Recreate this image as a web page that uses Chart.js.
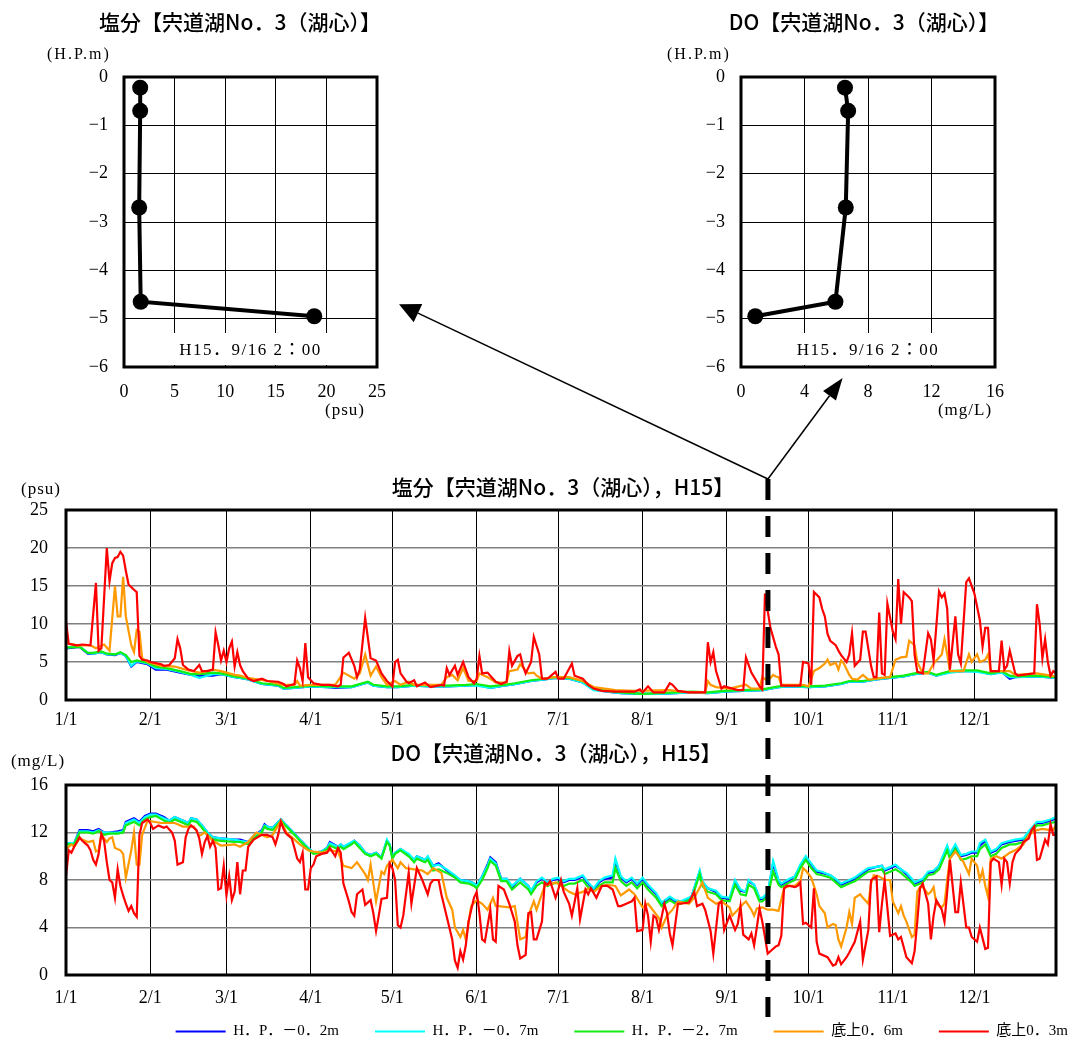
<!DOCTYPE html>
<html lang="ja">
<head>
<meta charset="utf-8">
<title>宍道湖No.3（湖心） 塩分・DO H15</title>
<script src="https://cdn.jsdelivr.net/npm/chart.js@4.4.1/dist/chart.umd.min.js"></script>
<style>
  html, body { margin: 0; padding: 0; background: #fff; overflow: hidden; }
  #page { position: relative; width: 1073px; height: 1046px; overflow: hidden; background: #fff; }
  .box { position: absolute; }
  .box canvas { display: block; }
  #overlay { position: absolute; left: 0; top: 0; pointer-events: none; }
</style>
</head>
<body>
<div id="page">
  <div class="box" style="left:0;top:0;"><canvas id="salProfile" width="400" height="430"></canvas></div>
  <div class="box" style="left:620px;top:0;"><canvas id="doProfile" width="453" height="430"></canvas></div>
  <div class="box" style="left:0;top:470px;"><canvas id="salSeries" width="1073" height="270"></canvas></div>
  <div class="box" style="left:0;top:740px;"><canvas id="doSeries" width="1104" height="330"></canvas></div>
  <canvas id="overlay" width="1073" height="1046"></canvas>
</div>
<script>
// ---- profile at H15.9/16 2:00 ----
const depthM = [-0.22, -0.7, -2.7, -4.65, -4.95];
const salProfilePsu = [1.6, 1.6, 1.5, 1.65, 18.8];
const doProfileMg = [6.55, 6.75, 6.6, 5.95, 0.9];
const sampleDay = 258 + 2 / 24;   // 9/16 2:00, days from 1/1

// ---- x axis (day of year) ----
const monthStarts = [0, 31, 59, 90, 120, 151, 181, 212, 243, 273, 304, 334];
const monthLabels = ['1/1', '2/1', '3/1', '4/1', '5/1', '6/1', '7/1', '8/1', '9/1', '10/1', '11/1', '12/1'];

const seriesNames = ['H．P．－0．2m', 'H．P．－0．7m', 'H．P．－2．7m', '底上0．6m', '底上0．3m'];
const seriesColors = ['#0000ff', '#00ffff', '#11ee11', '#ff9900', '#ff0000'];

// ---- salinity (psu) ----
const salUpperDays = [0,5,8,10,13,15,18,20,22,24, 26,30,33,37,42,46,49,54,57,62, 64,67,72,78,80,84,90,96,99,105,
  111,113,118,122,128,134,140,147,151,156, 161,165,171,176,180,185,190,194,199,204, 212,218,224,230,236,242,249,256,262,266,
  273,279,285,288,293,298,303,308,312,317, 320,325,330,335,340,344,347,349,357,364];
const salHP02 = [6.8,7.0,6.1,6.1,6.3,6.0,5.9,6.2,5.8,4.4, 5.0,4.7,4.0,4.0,3.6,3.3,3.2,3.2,3.4,3.0, 2.9,2.7,2.1,1.9,1.5,1.6,1.8,1.7,1.6,1.7,
  2.3,1.9,1.7,1.7,1.9,1.8,1.8,1.9,2.0,1.6, 1.9,2.1,2.5,2.7,2.9,2.8,2.3,1.4,1.1,0.9, 0.8,0.8,0.9,1.0,0.9,1.1,1.2,1.3,1.7,1.8,
  1.7,1.8,2.1,2.4,2.4,2.7,2.9,3.1,3.4,3.6, 3.2,3.7,3.8,3.8,3.4,3.7,2.8,3.0,3.1,2.9];
const salHP07 = [6.9,7.1,6.2,6.1,6.3,6.0,6.0,6.2,5.8,4.5, 5.1,4.8,4.2,4.1,3.7,3.3,2.9,3.4,3.4,3.0, 2.9,2.7,2.1,1.9,1.5,1.6,1.8,1.7,1.7,1.7,
  2.3,1.9,1.7,1.7,1.9,1.8,1.8,1.9,1.9,1.6, 1.9,2.1,2.5,2.7,2.9,2.8,2.3,1.3,1.1,0.9, 0.8,0.8,0.9,1.0,0.9,1.1,1.2,1.3,1.7,1.8,
  1.7,1.8,2.1,2.4,2.4,2.7,2.9,3.1,3.4,3.6, 3.2,3.6,3.8,3.7,3.4,3.6,3.0,3.0,3.1,2.9];
const salHP27 = [6.9,7.0,6.2,6.2,6.4,6.1,6.0,6.3,5.9,5.0, 5.2,4.9,4.4,4.2,3.8,3.4,3.4,3.6,3.5,3.1, 3.0,2.8,2.2,2.0,1.6,1.7,1.9,1.8,1.8,1.8,
  2.4,2.0,1.8,1.8,2.0,1.9,1.9,2.0,2.1,1.8, 2.0,2.2,2.6,2.8,3.0,2.9,2.5,1.5,1.2,1.0, 0.8,0.9,1.0,1.1,1.0,1.2,1.3,1.4,1.8,1.9,
  1.8,1.9,2.2,2.5,2.5,2.8,3.0,3.2,3.5,3.7, 3.3,3.8,3.9,3.9,3.5,3.8,3.2,3.1,3.2,3.0];
const salBottom06 = [[0,7.5],[4,7.2],[9,7.2],[11,6.8],[14,7.3],[16,6.5],[18,15.0],[19,11.0],[20,11.0],[21,16.2],[22,11.0],[24,7.2],[25,6.3],[26,9.2],[27,9.0],[28,5.5],
  [30,5.0],[35,4.5],[40,4.4],[45,3.9],[49,3.6],[54,4.0],[57,3.8],[62,3.3],[64,3.2],[67,2.9],[74,2.5],[80,2.0],[84,2.0],[85,2.5],[86,1.9],[90,2.0],[99,2.0],
  [102,3.6],[106,2.8],[108,3.5],[110,6.0],[112,3.2],[114,4.4],[116,3.0],[118,2.0],[121,2.5],[123,2.0],[126,2.4],[128,2.0],[138,2.0],[140,3.0],[142,3.3],[144,2.6],
  [146,4.2],[148,2.5],[151,2.5],[152,3.5],[155,3.0],[158,2.3],[162,2.3],[163,3.8],[166,4.0],[167,4.7],[170,3.5],[172,3.6],[173,3.2],[175,2.8],[180,3.0],[185,3.0],
  [190,2.5],[194,1.7],[202,1.3],[209,1.2],[222,1.3],[229,1.0],[235,1.0],[236,2.5],[237,2.0],[239,1.7],[244,1.5],[250,2.0],[252,1.5],[255,1.5],[256,3.0],[258,2.5],
  [260,3.3],[261,3.1],[262,3.0],[263,2.0],[271,2.0],[273,1.8],[275,3.8],[277,4.2],[279,4.8],[280,5.3],[281,4.6],[283,4.9],[284,4.0],[285,5.2],[286,4.8],[288,3.3],
  [289,2.8],[291,2.7],[293,3.3],[295,2.7],[296,2.7],[300,2.9],[303,3.0],[305,5.3],[307,5.6],[309,5.7],[310,7.8],[312,7.2],[313,5.0],[315,3.5],[317,3.5],[319,4.8],
  [321,5.6],[322,6.0],[323,8.0],[324,6.0],[325,3.8],[330,3.8],[332,6.0],[333,5.0],[335,6.0],[336,5.0],[338,5.3],[339,6.0],[340,3.8],[347,3.8],[349,3.3],[357,3.5],[364,3.1]];
const salBottom03 = [[0,10.3],[1,7.4],[4,7.2],[6,7.3],[9,7.2],[11,15.4],[12,6.5],[13,6.8],[15,20.0],[16,15.6],[17,18.0],[18,18.7],[19,18.8],[20,19.5],[21,19.0],[22,17.0],
  [23,15.2],[25,14.5],[26,14.2],[27,5.8],[28,5.3],[30,5.2],[31,5.0],[35,4.7],[36,4.5],[38,4.6],[40,5.5],[41,8.0],[42,6.8],[43,4.6],[45,4.0],[47,3.8],[49,4.6],
  [50,3.8],[52,3.8],[54,4.0],[55,8.9],[56,7.2],[57,5.2],[58,6.5],[59,5.0],[60,6.8],[61,7.7],[62,4.4],[63,6.3],[64,4.6],[65,3.8],[67,2.8],[69,2.5],[72,2.8],
  [74,2.5],[78,2.4],[80,2.1],[81,1.8],[83,2.0],[84,2.1],[85,5.2],[86,4.2],[87,2.5],[88,7.5],[89,3.0],[91,2.2],[94,2.0],[97,2.0],[100,1.8],[101,2.0],[102,5.6],
  [104,6.2],[106,4.5],[107,3.0],[108,4.0],[110,10.8],[112,5.5],[114,5.2],[116,3.5],[118,2.5],[120,1.8],[121,5.0],[122,5.3],[123,3.5],[125,2.5],[126,2.2],[128,2.6],
  [129,1.8],[132,2.3],[134,1.7],[138,2.0],[139,1.9],[140,4.2],[141,3.3],[143,4.5],[144,3.3],[146,5.0],[148,3.0],[150,2.2],[151,2.8],[152,5.8],[153,3.5],[155,3.6],
  [156,3.2],[158,2.4],[160,2.1],[162,2.4],[163,6.4],[164,4.5],[166,5.8],[167,6.0],[168,4.5],[169,3.5],[171,5.0],[172,8.3],[174,6.0],[175,2.8],[177,2.8],[180,3.7],
  [181,2.8],[183,2.8],[186,4.8],[187,3.2],[190,2.8],[192,2.0],[194,1.5],[197,1.2],[202,1.1],[209,1.1],[211,1.4],[212,1.0],[214,1.8],[216,1.0],[220,1.0],[222,2.2],
  [223,2.0],[225,1.2],[229,1.0],[235,1.0],[236,7.6],[237,5.0],[238,6.3],[239,3.8],[241,1.5],[242,1.8],[244,1.6],[247,1.3],[249,1.3],[250,5.6],[252,3.6],[255,1.8],
  [256,1.4],[257,14.0],[259,9.5],[261,7.0],[262,6.0],[263,1.9],[270,1.9],[271,5.0],[273,4.8],[274,2.0],[275,14.2],[277,13.5],[278,12.0],[279,11.0],[280,8.7],[281,7.8],
  [283,7.2],[284,6.5],[285,5.9],[287,5.0],[288,6.0],[289,8.8],[290,4.5],[292,5.3],[293,9.0],[294,9.0],[296,4.5],[297,3.0],[298,3.0],[299,11.5],[300,3.5],[301,3.3],
  [302,12.7],[304,9.0],[305,8.0],[306,15.9],[307,10.0],[308,14.2],[310,13.5],[311,13.0],[312,6.0],[313,3.7],[315,3.5],[317,8.8],[318,8.0],[319,5.2],[321,14.3],[322,13.5],
  [323,14.0],[324,12.0],[325,4.0],[327,11.0],[328,6.0],[329,4.8],[331,15.5],[332,16.0],[334,14.0],[336,10.5],[337,7.0],[338,9.5],[339,9.5],[340,3.8],[343,3.8],[344,7.8],
  [345,4.0],[346,4.5],[347,6.5],[349,3.5],[350,3.2],[356,3.5],[357,12.6],[358,10.0],[359,5.5],[360,8.0],[361,5.0],[362,3.2],[363,3.8],[364,3.5]];

// ---- DO (mg/L) ----
const doUpperDays = [0,3,5,8,10,12,14,16,19,21, 22,25,27,29,31,33,36,38,40,42, 45,46,48,50,52,54,57,62,64,67,
  69,72,73,74,76,79,81,84,86,89, 91,94,96,97,100,101,102,105,106,108, 110,112,114,116,118,119,120,121,123,126,
  128,129,132,133,135,137,140,143,145,148, 150,151,153,155,156,158,160,162,164,166, 167,170,171,173,175,177,179,181,183,185,
  187,190,192,194,196,198,201,202,204,206, 208,210,212,214,217,219,222,224,226,228, 230,233,234,236,239,241,244,246,248,250,
  251,253,255,256,258,260,262,263,266,268, 270,272,274,276,278,281,283,285,288,290, 293,295,298,300,301,303,305,307,309,311,
  312,315,317,319,321,324,325,327,329,331, 333,335,336,338,340,342,344,347,349,352, 354,357,359,362,364];
const doHP02 = [11.1,11.1,12.2,12.2,12.1,12.3,12.0,12.0,12.1,12.2, 12.9,13.2,12.9,13.4,13.6,13.6,13.3,13.0,13.3,13.1, 12.8,13.2,13.1,12.6,12.0,11.6,11.5,11.4,11.4,11.2,
  11.7,12.2,12.7,12.5,12.4,13.1,12.6,11.9,11.4,10.7, 10.3,10.4,10.7,11.2,10.8,11.0,10.8,11.1,11.3,10.9, 10.3,10.1,10.3,9.9,11.3,11.0,9.9,10.3,10.6,10.1,
  9.7,10.0,9.7,9.9,9.2,9.4,8.8,8.3,8.0,7.9, 7.7,7.5,8.3,9.3,9.9,9.5,8.1,8.1,7.4,7.9, 8.1,7.5,7.0,7.8,8.1,7.8,8.0,8.1,7.8,8.0,
  8.0,8.3,7.7,7.2,7.8,8.1,8.2,9.6,8.2,7.8, 8.1,7.6,8.1,7.5,6.8,6.0,6.5,6.2,6.1,6.3, 6.6,8.7,7.8,7.3,7.0,6.5,6.4,7.9,7.1,7.0,
  7.9,7.6,6.4,6.4,6.8,9.4,7.9,7.6,8.0,8.3, 9.2,9.9,9.3,8.7,8.6,8.4,8.0,7.6,7.9,8.1, 8.6,8.9,9.1,9.2,8.8,9.0,9.2,8.9,8.5,8.0,
  7.7,8.0,8.6,8.7,9.2,10.8,10.1,10.9,10.0,10.1, 10.3,10.3,10.9,11.3,10.3,10.5,11.0,11.2,11.3,11.4, 12.0,12.8,12.8,13.0,13.2];
const doHP07 = [11.1,11.1,12.1,12.1,12.0,12.2,12.0,12.0,12.0,12.1, 12.8,13.1,12.8,13.3,13.5,13.5,13.2,13.0,13.3,13.1, 12.8,13.2,13.1,12.6,12.0,11.6,11.5,11.4,11.3,11.2,
  11.7,12.1,12.6,12.5,12.4,13.1,12.6,11.9,11.4,10.7, 10.3,10.4,10.7,11.1,10.8,11.0,10.8,11.2,11.3,10.9, 10.3,10.1,10.3,9.9,11.4,11.0,9.9,10.3,10.6,10.2,
  9.7,10.0,9.7,10.0,9.2,9.3,8.9,8.4,8.0,7.9, 7.7,7.5,8.3,9.2,9.8,9.4,8.1,8.1,7.5,7.9, 8.1,7.5,7.1,7.9,8.2,7.8,8.1,8.2,7.9,8.1,
  8.1,8.4,7.8,7.3,7.9,8.2,8.4,9.8,8.3,7.9, 8.2,7.7,8.2,7.6,6.9,6.1,6.6,6.3,6.2,6.4, 6.6,8.8,7.9,7.3,7.1,6.6,6.5,8.0,7.2,7.0,
  8.0,7.6,6.5,6.5,6.9,9.6,8.0,7.7,8.1,8.3, 9.3,10.0,9.4,8.8,8.7,8.4,8.1,7.7,8.0,8.2, 8.7,9.0,9.1,9.2,8.9,9.1,9.3,8.9,8.6,8.1,
  7.8,8.1,8.7,8.8,9.2,10.9,10.2,11.0,10.1,10.2, 10.4,10.4,11.1,11.4,10.4,10.6,11.1,11.3,11.4,11.5, 12.1,12.9,12.9,13.1,13.3];
const doHP27 = [11.0,11.0,12.0,12.0,11.9,12.1,11.8,11.9,11.9,12.0, 12.6,12.9,12.6,13.1,13.3,13.4,13.0,12.8,13.1,12.9, 12.6,13.0,12.9,12.4,11.8,11.4,11.3,11.2,11.2,11.0,
  11.5,12.0,12.5,12.3,12.2,13.0,12.5,11.8,11.3,10.6, 10.2,10.3,10.6,10.9,10.6,10.8,10.6,11.0,11.2,10.7, 10.2,10.0,10.2,9.8,11.2,10.9,9.8,10.2,10.5,10.0,
  9.5,9.8,9.5,9.7,8.8,8.9,8.6,8.2,7.8,7.7, 7.5,7.3,8.0,9.0,9.6,9.2,7.9,7.9,7.2,7.6, 7.8,7.2,6.8,7.5,7.8,7.5,7.7,7.8,7.5,7.7,
  7.7,8.0,7.4,7.0,7.5,7.8,7.8,9.0,7.9,7.5, 7.8,7.3,7.8,7.2,6.5,5.8,6.3,6.0,6.0,6.2, 6.4,8.5,7.5,7.0,6.8,6.3,6.2,7.6,6.8,6.7,
  7.6,7.3,6.2,6.2,6.6,8.7,7.6,7.4,7.8,8.0, 9.0,9.7,9.0,8.5,8.4,8.2,7.8,7.4,7.7,7.9, 8.4,8.7,8.8,8.9,8.5,8.7,8.9,8.6,8.2,7.8,
  7.5,7.8,8.4,8.5,8.9,10.5,9.8,10.6,9.7,9.8, 10.0,10.0,10.6,11.0,10.0,10.2,10.7,11.0,11.0,11.2, 11.8,12.6,12.6,12.8,12.9];
const doBottom06 = [[0,10.6],[2,11.0],[3,10.8],[5,11.5],[8,11.2],[10,11.3],[11,10.4],[12,10.5],[13,11.8],[15,11.2],[16,11.5],[17,11.6],[18,10.7],[20,10.5],[21,10.2],[22,8.2],
  [24,10.5],[25,12.0],[26,9.3],[27,9.3],[28,11.8],[30,13.0],[35,12.8],[40,12.8],[43,12.5],[47,12.5],[49,11.7],[51,12.0],[54,11.3],[57,10.9],[62,11.0],[64,10.8],
  [67,11.2],[70,12.0],[74,11.6],[76,11.8],[79,13.0],[81,12.0],[84,11.4],[86,11.0],[89,10.5],[91,10.4],[94,10.3],[97,10.5],[100,10.4],[102,9.2],[105,9.0],[107,9.5],
  [110,8.5],[111,8.0],[112,9.3],[114,6.2],[116,8.7],[117,8.5],[118,9.2],[120,9.7],[122,9.0],[123,9.5],[125,9.0],[128,8.9],[131,8.8],[133,8.5],[135,9.0],[138,8.6],
  [140,6.5],[142,5.5],[143,4.0],[145,3.2],[146,3.8],[147,3.0],[149,5.8],[151,6.3],[153,6.0],[155,5.5],[157,6.5],[158,5.8],[159,5.8],[163,5.7],[165,5.8],[167,3.0],
  [169,3.2],[170,5.0],[172,6.2],[173,5.5],[176,7.5],[180,7.8],[182,7.5],[185,7.0],[187,6.8],[190,7.0],[192,7.3],[194,7.0],[197,7.5],[199,7.6],[202,7.5],[204,6.7],
  [207,7.2],[209,6.8],[212,5.7],[214,6.0],[218,4.8],[219,4.0],[221,5.0],[223,5.5],[225,6.2],[229,6.0],[231,6.5],[234,7.8],[236,6.5],[239,6.0],[241,6.2],[244,5.7],
  [245,5.0],[247,5.5],[249,6.0],[250,6.2],[252,5.5],[253,5.0],[254,5.6],[256,5.7],[258,5.5],[260,5.5],[262,5.4],[264,7.3],[266,7.5],[268,7.5],[270,7.9],[271,9.0],
  [272,8.8],[274,8.2],[275,7.5],[276,6.8],[277,5.8],[279,5.2],[280,4.0],[282,4.3],[283,4.2],[284,3.0],[285,2.4],[287,4.0],[288,5.3],[289,4.3],[290,6.5],[292,6.8],
  [293,6.5],[295,6.0],[296,7.7],[297,8.4],[299,8.3],[301,8.0],[303,8.0],[304,6.2],[306,5.2],[307,5.8],[308,5.0],[309,4.5],[311,3.2],[312,3.4],[313,7.0],[314,7.4],
  [315,7.4],[317,6.8],[318,7.0],[319,7.4],[320,6.0],[322,5.7],[323,6.0],[324,8.0],[325,9.8],[327,10.4],[329,9.8],[330,9.5],[332,8.5],[333,9.8],[335,9.2],[336,8.0],
  [337,8.8],[338,7.5],[339,6.6],[340,9.8],[342,10.0],[344,9.8],[347,10.3],[349,10.5],[352,11.0],[354,11.8],[357,12.2],[359,12.3],[362,12.2],[363,12.2],[364,12.6]];
const doBottom03 = [[0,8.3],[1,10.5],[2,10.3],[3,10.8],[4,11.2],[5,11.6],[6,11.3],[8,10.9],[9,10.5],[10,9.7],[11,9.3],[12,10.2],[13,11.9],[14,11.3],[15,9.5],[16,8.0],
  [17,7.8],[18,6.5],[19,8.9],[20,7.5],[21,6.7],[22,6.0],[23,5.4],[24,5.8],[25,5.2],[26,4.9],[27,11.8],[28,12.8],[30,13.1],[31,12.8],[32,12.3],[34,12.6],
  [36,12.4],[37,12.5],[39,12.0],[40,11.3],[41,9.3],[43,9.5],[44,11.6],[45,12.3],[46,12.6],[48,12.2],[49,11.5],[50,10.2],[51,11.2],[52,11.7],[53,10.8],[54,11.3],
  [55,10.7],[56,7.2],[57,7.3],[58,9.2],[59,6.7],[60,8.3],[61,6.3],[62,7.0],[63,9.5],[64,6.8],[65,8.8],[66,8.8],[67,10.8],[69,11.4],[72,11.8],[74,11.8],
  [76,11.6],[77,11.0],[78,11.8],[79,12.9],[80,12.3],[81,11.9],[83,11.5],[84,10.7],[85,9.8],[86,9.5],[87,10.3],[88,7.2],[89,7.2],[90,9.0],[91,9.3],[92,10.0],
  [94,10.2],[96,10.3],[97,10.7],[99,10.0],[100,10.7],[101,10.3],[102,7.7],[104,6.2],[105,5.3],[106,5.0],[107,6.8],[109,7.2],[110,5.9],[112,6.3],[113,5.2],[114,3.7],
  [115,5.0],[116,6.4],[118,6.5],[119,9.4],[120,9.0],[121,8.0],[122,4.2],[123,4.0],[124,5.0],[126,8.6],[127,6.0],[129,9.0],[130,8.5],[131,8.0],[133,6.8],[134,7.7],
  [135,8.0],[137,8.0],[138,6.8],[140,4.9],[142,3.0],[143,1.2],[144,0.6],[145,2.0],[146,1.3],[147,2.5],[148,4.5],[150,6.5],[151,7.0],[152,5.2],[153,3.0],[154,2.8],
  [156,5.5],[157,3.0],[158,2.8],[159,7.5],[161,7.2],[163,6.0],[165,4.5],[166,2.5],[167,1.4],[169,1.7],[170,5.2],[171,5.3],[172,3.0],[173,3.0],[175,4.5],[176,7.8],
  [177,7.6],[178,7.9],[180,6.5],[181,7.2],[182,8.0],[183,7.0],[185,6.0],[186,5.0],[188,7.3],[189,4.7],[191,7.2],[192,6.8],[193,7.3],[195,6.5],[197,7.5],[199,7.5],
  [201,7.2],[202,6.5],[203,5.8],[204,5.8],[206,6.0],[208,6.2],[209,6.5],[210,3.7],[212,3.8],[213,6.0],[214,5.0],[215,2.8],[216,5.0],[217,4.8],[218,3.8],[220,6.0],
  [221,5.2],[222,3.5],[223,2.5],[225,6.0],[226,6.0],[229,6.1],[231,7.0],[232,5.8],[234,6.0],[235,5.5],[237,3.7],[238,1.8],[240,6.0],[241,6.2],[242,3.8],[244,5.0],
  [246,3.8],[247,4.3],[248,5.8],[249,3.4],[251,3.0],[252,3.5],[253,2.5],[254,4.0],[255,5.6],[256,4.5],[257,3.2],[258,1.8],[259,2.0],[261,2.4],[262,2.5],[263,3.3],
  [264,7.3],[265,7.5],[266,7.5],[268,7.4],[269,7.5],[270,7.8],[271,4.3],[272,4.4],[274,4.0],[275,7.3],[276,2.8],[277,1.8],[279,1.6],[280,1.5],[282,0.8],[283,0.9],
  [284,1.5],[285,0.9],[287,1.5],[288,1.9],[290,2.8],[292,4.5],[293,1.3],[295,3.8],[296,8.0],[298,8.3],[299,3.6],[300,6.0],[301,8.0],[303,3.3],[305,3.5],[306,3.0],
  [307,3.2],[309,1.5],[311,1.0],[312,2.0],[313,4.5],[314,7.3],[315,7.7],[317,6.0],[318,3.0],[319,5.0],[320,6.3],[322,5.5],[323,4.5],[324,7.0],[325,9.7],[327,5.3],
  [328,5.3],[329,7.8],[331,4.0],[332,4.0],[333,3.2],[335,2.8],[336,4.0],[338,2.2],[339,2.3],[340,9.5],[341,9.8],[343,9.5],[344,7.6],[345,9.8],[346,9.5],[347,7.7],
  [348,9.5],[349,10.2],[351,10.7],[352,11.2],[354,11.5],[355,12.2],[356,12.5],[357,9.7],[358,9.8],[360,11.4],[361,11.0],[362,12.7],[363,11.8],[364,11.8]];

const SERIF = '"Liberation Serif", "Noto Sans CJK JP", serif';
const GOTHIC = '"Noto Sans CJK JP", "Noto Sans", sans-serif';
const tickFont = { family: SERIF, size: 18 };
const titleFont = '500 21px ' + GOTHIC;

// frame, free-standing labels and the time stamp box
const decor = {
  id: 'decor',
  beforeDatasetsDraw(chart, args, opts) {
    if (!opts.stamp) return;
    const { ctx, chartArea: a } = chart;
    const cx = (a.left + a.right) / 2;
    ctx.save();
    ctx.font = '17px ' + SERIF;
    ctx.letterSpacing = '1.5px';
    const w = ctx.measureText(opts.stamp).width + 14;
    ctx.fillStyle = '#fff';
    ctx.fillRect(cx - w / 2, a.bottom - 34, w, 32);
    ctx.fillStyle = '#000';
    ctx.textAlign = 'center';
    ctx.textBaseline = 'middle';
    ctx.fillText(opts.stamp, cx, a.bottom - 16);
    ctx.restore();
  },
  afterDraw(chart, args, opts) {
    const { ctx, chartArea: a } = chart;
    ctx.save();
    ctx.lineWidth = 3;
    ctx.strokeStyle = '#000';
    ctx.strokeRect(a.left, a.top, a.right - a.left, a.bottom - a.top);
    (opts.texts || []).forEach(t => {
      ctx.font = t.font;
      ctx.letterSpacing = t.spacing || '0px';
      ctx.fillStyle = '#000';
      ctx.textAlign = t.align || 'left';
      ctx.textBaseline = 'middle';
      ctx.fillText(t.text, t.x, t.y);
    });
    ctx.restore();
  }
};

// moves the legend row up into the gap under the tick labels
const legendLift = {
  id: 'legendLift',
  afterLayout(chart, args, opts) {
    const lg = chart.legend;
    if (lg && opts.dy) {
      lg.top += opts.dy;
      lg.bottom += opts.dy;
    }
  }
};

const minusFmt = v => (v < 0 ? '−' + Math.abs(v) : String(v));

function profileChart(id, values, xMax, xStep, padRight, yWidth, texts) {
  return new Chart(document.getElementById(id), {
    type: 'scatter',
    data: {
      datasets: [{
        data: values.map((v, i) => ({ x: v, y: depthM[i] })),
        showLine: true,
        borderColor: '#000',
        borderWidth: 4,
        pointRadius: 8,
        pointBackgroundColor: '#000',
        pointBorderWidth: 0
      }]
    },
    options: {
      responsive: false,
      animation: false,
      layout: { padding: { left: 0, top: 77, right: padRight, bottom: 23 } },
      plugins: {
        legend: { display: false },
        tooltip: { enabled: false },
        decor: { texts, stamp: 'H15．9/16 2：00' }
      },
      scales: {
        x: {
          type: 'linear', min: 0, max: xMax,
          ticks: { stepSize: xStep, font: tickFont, color: '#000', padding: 14, maxRotation: 0 },
          grid: { color: '#000', lineWidth: 1, drawTicks: false },
          border: { display: false },
          afterFit: s => { s.height = 40; }
        },
        y: {
          min: -6, max: 0,
          ticks: { stepSize: 1, font: tickFont, color: '#000', padding: 16, callback: minusFmt },
          grid: { color: '#000', lineWidth: 1, drawTicks: false },
          border: { display: false },
          afterFit: s => { s.width = yWidth; }
        }
      }
    },
    plugins: [decor]
  });
}

const pairs = list => list.map(([x, y]) => ({ x, y }));
const onDays = (days, vals) => days.map((d, i) => ({ x: d, y: vals[i] }));

function seriesSets(upperDays, hp02, hp07, hp27, b06, b03) {
  const data = [onDays(upperDays, hp02), onDays(upperDays, hp07), onDays(upperDays, hp27), pairs(b06), pairs(b03)];
  return data.map((d, i) => ({
    label: seriesNames[i],
    data: d,
    borderColor: seriesColors[i],
    backgroundColor: seriesColors[i],
    borderWidth: 2.2,
    pointRadius: 0,
    tension: 0,
    order: 4 - i
  }));
}

function seriesScales(yMax, yStep, yLabel, xPad, xHeight) {
  return {
    x: {
      type: 'linear', min: 0, max: 364,
      afterBuildTicks: s => { s.ticks = monthStarts.map(v => ({ value: v })); },
      ticks: { font: tickFont, color: '#000', padding: xPad, maxRotation: 0, autoSkip: false,
               callback: (v, i) => monthLabels[i] },
      grid: { color: '#000', lineWidth: 1, drawTicks: false },
      border: { display: false },
      afterFit: s => { s.height = xHeight; }
    },
    y: {
      min: 0, max: yMax,
      ticks: { stepSize: yStep, font: tickFont, color: '#000', padding: 18, callback: yLabel },
      grid: { color: '#808080', lineWidth: 1.5, drawTicks: false },
      border: { display: false },
      afterFit: s => { s.width = 66; }
    }
  };
}

const salProfile = profileChart('salProfile', salProfilePsu, 25, 5, 22, 124, [
  { text: '塩分【宍道湖No．3（湖心）】', x: 240, y: 22, align: 'center', font: titleFont },
  { text: '(H.P.m)', x: 47, y: 55, font: '16px ' + SERIF, spacing: '2px' },
  { text: '(psu)', x: 345, y: 411, align: 'center', font: '17px ' + SERIF, spacing: '1px' }
]);

const doProfile = profileChart('doProfile', doProfileMg, 16, 4, 78, 121, [
  { text: 'DO【宍道湖No．3（湖心）】', x: 244, y: 22, align: 'center', font: titleFont },
  { text: '(H.P.m)', x: 47, y: 55, font: '16px ' + SERIF, spacing: '2px' },
  { text: '(mg/L)', x: 345, y: 411, align: 'center', font: '17px ' + SERIF, spacing: '1px' }
]);

const salSeries = new Chart(document.getElementById('salSeries'), {
  type: 'line',
  data: { datasets: seriesSets(salUpperDays, salHP02, salHP07, salHP27, salBottom06, salBottom03) },
  options: {
    responsive: false,
    animation: false,
    layout: { padding: { left: 0, top: 40, right: 17, bottom: 0 } },
    plugins: {
      legend: { display: false },
      tooltip: { enabled: false },
      decor: { texts: [
        { text: '塩分【宍道湖No．3（湖心），H15】', x: 563, y: 17, align: 'center', font: titleFont },
        { text: '(psu)', x: 41, y: 20, align: 'center', font: '17px ' + SERIF, spacing: '1px' }
      ] }
    },
    scales: seriesScales(25, 5, v => v, 9, 40)
  },
  plugins: [decor]
});

const doScales = seriesScales(16, 2, v => (v % 4 === 0 ? v : ''), 12, 34);
// blank strip on the right so the legend row can run out to the page edge
doScales.yEdge = {
  position: 'right', display: true,
  grid: { display: false }, border: { display: false }, ticks: { display: false },
  afterFit: s => { s.width = 48; }
};
const doSeries = new Chart(document.getElementById('doSeries'), {
  type: 'line',
  data: { datasets: seriesSets(doUpperDays, doHP02, doHP07, doHP27, doBottom06, doBottom03) },
  options: {
    responsive: false,
    animation: false,
    layout: { padding: { left: 0, top: 45, right: 0, bottom: 0 } },
    plugins: {
      legend: {
        position: 'bottom',
        align: 'end',
        labels: {
          usePointStyle: true, pointStyle: 'line', pointStyleWidth: 50,
          padding: 36, color: '#000', font: { family: SERIF, size: 15 },
          sort: (a, b) => a.datasetIndex - b.datasetIndex
        }
      },
      legendLift: { dy: -21 },
      tooltip: { enabled: false },
      decor: { texts: [
        { text: 'DO【宍道湖No．3（湖心），H15】', x: 556, y: 13, align: 'center', font: titleFont },
        { text: '(mg/L)', x: 38, y: 22, align: 'center', font: '17px ' + SERIF, spacing: '1px' }
      ] }
    },
    scales: doScales
  },
  plugins: [decor, legendLift]
});

// dashed sampling line and the two pointers to the profiles
function drawPointers() {
  const ctx = document.getElementById('overlay').getContext('2d');
  const origin = c => { const el = c.canvas.parentNode; return { x: el.offsetLeft, y: el.offsetTop }; };
  const oS = origin(salSeries), oD = origin(doSeries), oA = origin(salProfile), oB = origin(doProfile);
  const xLine = oS.x + salSeries.scales.x.getPixelForValue(sampleDay);
  const yTop = oS.y + salSeries.chartArea.top - 31;
  const yBottom = oD.y + doSeries.chartArea.bottom + 42;

  ctx.save();
  ctx.strokeStyle = '#000';
  ctx.lineWidth = 5;
  ctx.setLineDash([21, 16]);
  ctx.beginPath();
  ctx.moveTo(xLine, yTop);
  ctx.lineTo(xLine, yBottom);
  ctx.stroke();
  ctx.restore();

  const arrow = (x1, y1, len, half) => {
    const a = Math.atan2(y1 - yTop, x1 - xLine);
    const bx = x1 - Math.cos(a) * len, by = y1 - Math.sin(a) * len;
    ctx.strokeStyle = '#000';
    ctx.fillStyle = '#000';
    ctx.lineWidth = 1.5;
    ctx.beginPath();
    ctx.moveTo(xLine, yTop);
    ctx.lineTo(bx, by);
    ctx.stroke();
    ctx.beginPath();
    ctx.moveTo(x1, y1);
    ctx.lineTo(bx + Math.sin(a) * half, by - Math.cos(a) * half);
    ctx.lineTo(bx - Math.sin(a) * half, by + Math.cos(a) * half);
    ctx.closePath();
    ctx.fill();
  };
  arrow(oA.x + salProfile.chartArea.right + 22, oA.y + salProfile.scales.y.getPixelForValue(-4.7), 21, 10);
  arrow(oB.x + doProfile.scales.x.getPixelForValue(6.4), oB.y + doProfile.chartArea.bottom + 11, 22, 8);
}
drawPointers();
</script>
</body>
</html>
